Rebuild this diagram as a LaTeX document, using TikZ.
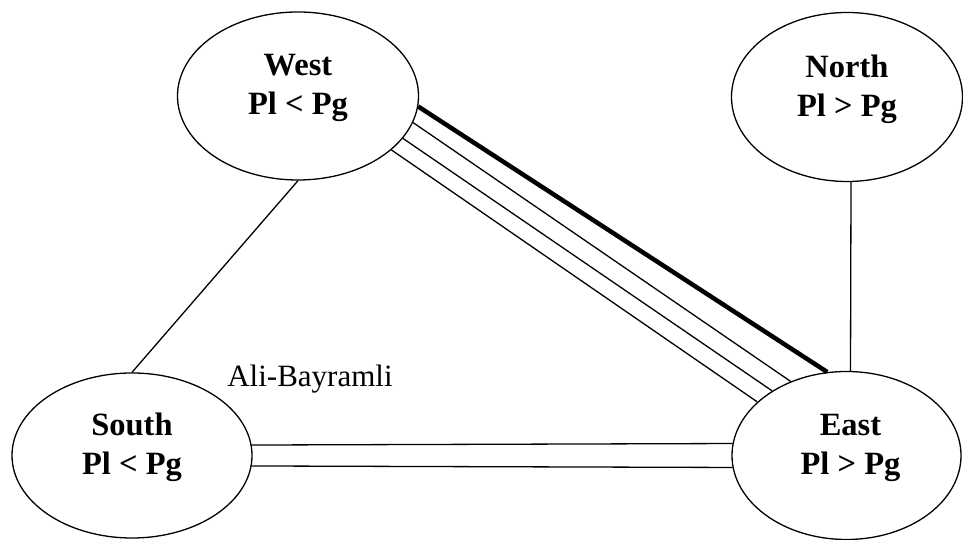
\documentclass[tikz,border=0pt]{standalone}
\usepackage{fontspec}
\setmainfont{Liberation Serif}
\usetikzlibrary{shapes.geometric}

\begin{document}
\begin{tikzpicture}[x=1pt, y=1pt,
  region/.style={draw, ellipse, line width=1.3pt, inner sep=0pt},
  lbl/.style={align=center, inner sep=0pt, font=\bfseries\fontsize{32.5}{39}\selectfont},
  link/.style={line width=1.3pt},
  mainlink/.style={line width=4.5pt}]
  \useasboundingbox (0,0) rectangle (963,540);

  % regions
  \node[region, minimum width=241pt, minimum height=168pt] (W) at (298,444) {};
  \node[region, minimum width=231pt, minimum height=169pt] (N) at (847,443) {};
  \node[region, minimum width=240pt, minimum height=165pt] (S) at (132,84.5) {};
  \node[region, minimum width=229pt, minimum height=168pt] (E) at (846.5,84.5) {};

  % region labels
  \node[lbl] (Wt) at ([yshift=8pt]W.center) {West\\Pl < Pg};
  \node[lbl] (Nt) at ([yshift=8pt]N.center) {North\\Pl > Pg};
  \node[lbl] (St) at ([yshift=8pt]S.center) {South\\Pl < Pg};
  \node[lbl] (Et) at ([xshift=4pt,yshift=8pt]E.center) {East\\Pl > Pg};

  % West -- East bundle
  \draw[mainlink] (W.-5.7) -- (E.103.7);
  \draw[link] (W.-13) -- (E.127.7);
  \draw[link] (W.-22.1) -- (E.139.3);
  \draw[link] (W.-30.9) -- (E.149.6);

  % South -- East pair
  \draw[link] (S.5.3) -- (E.174.5);
  \draw[link] (S.-5.8) -- (E.-174);

  % single links
  \draw[link] (W.south) -- (S.north);
  \draw[link] ([xshift=4pt]N.south) -- ([xshift=4pt]E.north);

  \node[font=\fontsize{31}{37}\selectfont, anchor=base, inner sep=0pt] (AB) at (310,153) {Ali-Bayramli};
\end{tikzpicture}
\end{document}
